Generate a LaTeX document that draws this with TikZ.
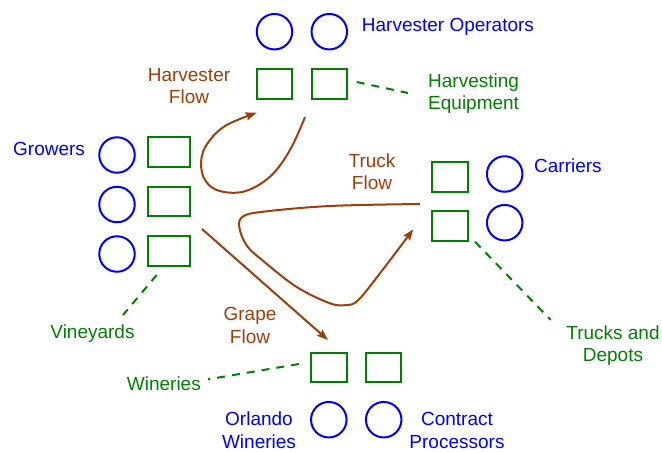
\documentclass[tikz,border=0pt]{standalone}
\usepackage{fontspec}
\setmainfont{Liberation Sans}
\usetikzlibrary{arrows.meta}
\definecolor{cblue}{RGB}{0,0,255}
\definecolor{cgreen}{RGB}{0,128,0}
\definecolor{cbrown}{RGB}{158,62,8}
\begin{document}
\begin{tikzpicture}[x=1pt,y=-1pt,
  actor/.style={circle,draw=cblue,line width=2pt,minimum size=35.5pt,inner sep=0pt},
  asset/.style={rectangle,draw=cgreen,line width=2pt,minimum width=35.5pt,minimum height=29.5pt,inner sep=0pt},
  wasset/.style={asset,minimum width=42pt},
  lbl/.style={font=\fontsize{19}{22.3}\selectfont,inner sep=0pt,align=center},
  blbl/.style={lbl,text=cblue},
  glbl/.style={lbl,text=cgreen},
  flbl/.style={lbl,text=cbrown},
  link/.style={draw=cgreen,line width=2pt,dash pattern=on 8pt off 7pt},
  flow/.style={draw=cbrown,line width=2pt,-{Stealth[length=11pt,width=8pt,inset=1.5pt]}}
]
\useasboundingbox (0,0) rectangle (662,451);
% harvester operators and equipment
\node[actor] (ho1) at (274.5,31.7) {};
\node[actor] (ho2) at (329.3,31.7) {};
\node[asset] (he1) at (274.5,84) {};
\node[asset] (he2) at (329.3,84) {};
% growers and vineyards
\node[actor] (g1) at (117,155) {};
\node[actor] (g2) at (117,204.5) {};
\node[actor] (g3) at (117,254) {};
\node[wasset] (v1) at (168.7,152) {};
\node[wasset] (v2) at (168.7,201.5) {};
\node[wasset] (v3) at (168.7,251) {};
% trucks and carriers
\node[asset] (t1) at (450,177) {};
\node[asset] (t2) at (450,226) {};
\node[actor] (c1) at (504.7,174) {};
\node[actor] (c2) at (504.7,222.7) {};
% wineries
\node[asset] (w1) at (328.8,367.7) {};
\node[asset] (w2) at (383.7,367.7) {};
\node[actor] (o1) at (328.8,419.7) {};
\node[actor] (o2) at (383.7,419.7) {};
% labels (multi-line nodes: base = last line baseline)
\node[blbl,anchor=base west] (lho) at (361.7,31.7) {Harvester Operators};
\node[flbl,anchor=base] (lhf) at (189,103.5) {Harvester\\Flow};
\node[glbl,anchor=base west,align=left] (lhe) at (428,109.5) {Harvesting\\Equipment};
\node[blbl,anchor=base west] (lg) at (13,155) {Growers};
\node[glbl,anchor=base] (lv) at (92.5,338) {Vineyards};
\node[flbl,anchor=base] (lgf) at (250,343) {Grape\\Flow};
\node[flbl,anchor=base] (ltf) at (372,189.5) {Truck\\Flow};
\node[blbl,anchor=base west] (lc) at (534,172) {Carriers};
\node[glbl,anchor=base] (lt) at (613,361.5) {Trucks and\\Depots};
\node[glbl,anchor=base west] (lw) at (126.7,390) {Wineries};
\node[blbl,anchor=base] (lo) at (259,448) {Orlando\\Wineries};
\node[blbl,anchor=base] (lcp) at (457,448) {Contract\\Processors};
% dashed links
\coordinate (a1) at (356.7,82); \coordinate (a2) at (408,93);
\coordinate (b1) at (156.7,275); \coordinate (b2) at (123,315);
\coordinate (d1) at (475,241.7); \coordinate (d2) at (550.7,320);
\coordinate (e1) at (299,364); \coordinate (e2) at (208,379.3);
\draw[link] (a1) -- (a2);
\draw[link] (b1) -- (b2);
\draw[link] (d1) -- (d2);
\draw[link] (e1) -- (e2);
% flows
\coordinate (hs) at (305,117); \coordinate (he) at (256.7,112.7);
\draw[flow] plot[smooth,tension=0.6] coordinates {(hs) (290,150) (270,176.7) (243.3,191.7) (216.7,190) (203.3,176.7) (201.7,156.7) (210,140) (226.7,125) (he)};
\coordinate (ts) at (420,204); \coordinate (te) at (413.3,229.3);
\draw[flow] plot[smooth,tension=0.6] coordinates {(ts) (330,206) (263.3,211.7) (243,216.5) (239.3,227) (246.7,245.5) (263.3,261) (296.7,287) (330,303.3) (346.7,305) (358.3,300) (380,273.3) (te)};
\coordinate (gs) at (202,229); \coordinate (ge) at (328,340);
\draw[flow] (gs) -- (ge);
\end{tikzpicture}
\end{document}
